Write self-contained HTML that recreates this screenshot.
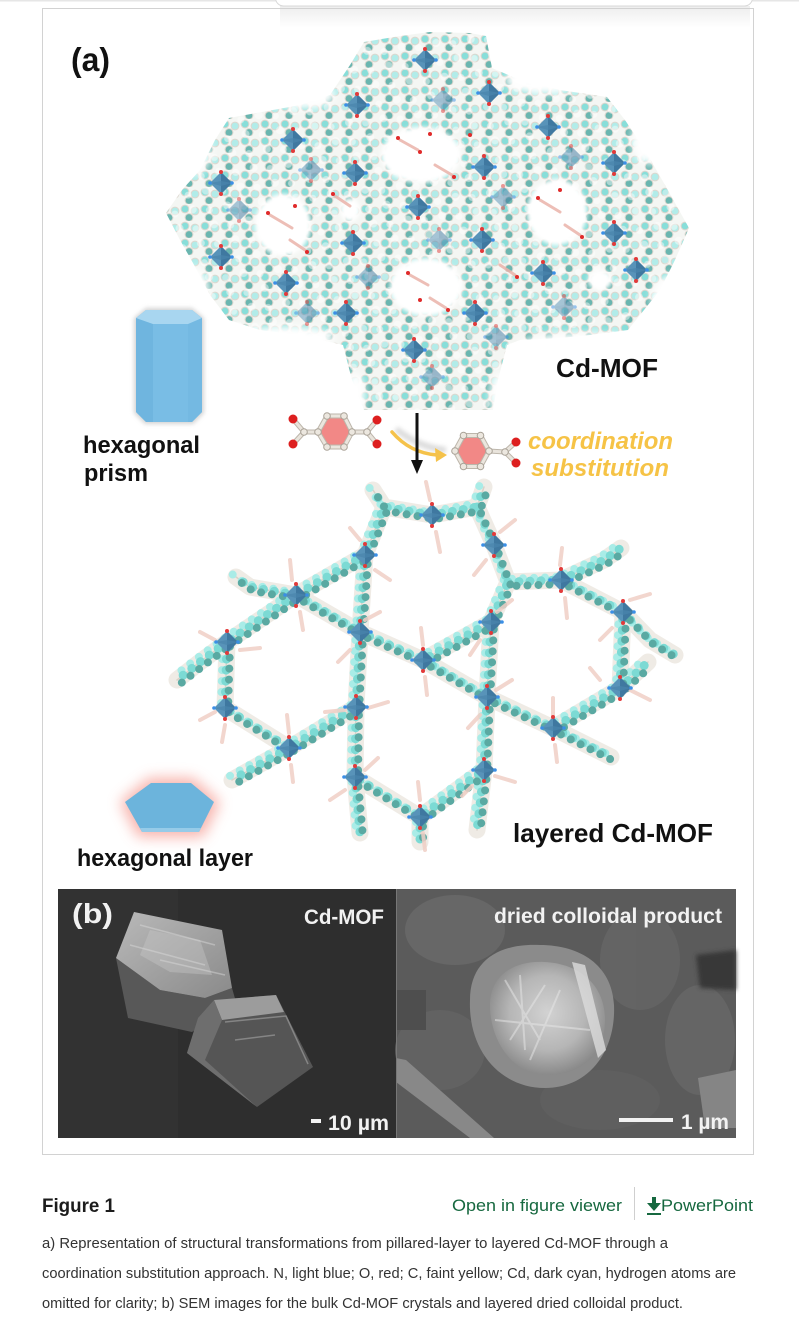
<!DOCTYPE html>
<html><head><meta charset="utf-8"><style>
html,body{margin:0;padding:0;background:#fff;width:799px;height:1324px;overflow:hidden}
svg{display:block}
</style></head><body>
<svg width="799" height="1324" viewBox="0 0 799 1324" xmlns="http://www.w3.org/2000/svg">
<defs>
<pattern id="tex" width="20" height="17" patternUnits="userSpaceOnUse">
 <rect width="20" height="17" fill="#f4f6f3"/>
 <circle cx="5" cy="5" r="3.9" fill="#82ddd7" stroke="#dcd5cc" stroke-width="1"/>
 <circle cx="15" cy="7" r="3.9" fill="#aeece8" stroke="#dcd5cc" stroke-width="1"/>
 <circle cx="9" cy="13.5" r="3.9" fill="#63b3ac" stroke="#dcd5cc" stroke-width="1"/>
</pattern>
<pattern id="tex2" width="26" height="23" patternUnits="userSpaceOnUse" patternTransform="rotate(35)">
 <circle cx="6" cy="6" r="3.5" fill="#fff"/>
 <circle cx="18" cy="15" r="4" fill="#fff"/>
</pattern>
<filter id="b2" x="-30%" y="-30%" width="160%" height="160%"><feGaussianBlur stdDeviation="2"/></filter>
<filter id="b4" x="-50%" y="-50%" width="200%" height="200%"><feGaussianBlur stdDeviation="4"/></filter>
<filter id="b6" x="-40%" y="-40%" width="180%" height="180%"><feGaussianBlur stdDeviation="7"/></filter>
<g id="cd">
 <polygon points="0,-11 11,0 0,11 -11,0" fill="#5893b9"/>
 <polygon points="0,-11 11,0 0,11" fill="#3f78a0"/>
 <polygon points="-11,0 0,-2 11,0 0,3" fill="#4a85ad" opacity=".7"/>
 <circle cx="0" cy="-11" r="2" fill="#e23a3a"/>
 <circle cx="0" cy="11" r="2" fill="#e23a3a"/>
 <circle cx="-11" cy="0" r="1.8" fill="#3b8fe6"/>
 <circle cx="11" cy="0" r="1.8" fill="#3b8fe6"/>
</g>
<g id="cdl" opacity=".5"><use href="#cd"/></g>
<path id="lp" d="M365,555 L384,507 L432,515 L477,507 L494,545 L508,582 L491,622 L423,660 L360,632 Z
  M296,595 L360,632 L356,707 L289,748 L225,708 L227,642 Z
  M561,580 L623,612 L620,688 L553,728 L487,697 L491,622
  M423,660 L487,697 L484,770 L420,817 L355,777 L356,707
  M508,582 L561,580 M365,555 L296,595
  M384,507 L373,490 M477,507 L484,487 M561,580 L604,560 L621,548
  M623,612 L650,640 L675,655 M620,688 L648,662
  M227,642 L200,662 L177,680 M296,595 L250,587 L236,577
  M289,748 L232,780 M420,817 L420,842 M355,777 L360,833
  M484,770 L477,830 M553,728 L611,757"/>
<radialGradient id="flw" cx="50%" cy="45%" r="55%">
 <stop offset="0" stop-color="#d2d2d2"/><stop offset=".6" stop-color="#b6b6b6"/><stop offset="1" stop-color="#8a8a8a"/>
</radialGradient>
<linearGradient id="c1" x1="0" y1="0" x2="1" y2="1">
 <stop offset="0" stop-color="#b9b9b9"/><stop offset="1" stop-color="#8a8a8a"/>
</linearGradient>
<linearGradient id="shd" x1="0" y1="0" x2="0" y2="1">
 <stop offset="0" stop-color="#000" stop-opacity=".07"/><stop offset="1" stop-color="#000" stop-opacity="0"/>
</linearGradient>
</defs>

<!-- top chrome -->
<rect x="0" y="0" width="799" height="1.5" fill="#e6e6e6"/>
<rect x="280" y="6" width="470" height="22" fill="url(#shd)"/>
<rect x="275.5" y="-10" width="477" height="16" rx="8" fill="#fff" stroke="#d8d8d8"/>

<!-- figure frame -->
<rect x="42.5" y="8.5" width="711" height="1146" fill="none" stroke="#d2d2d2"/>

<!-- (a) -->
<text x="71" y="71" font-family="Liberation Sans, sans-serif" font-weight="bold" font-size="33" fill="#111" textLength="39" lengthAdjust="spacingAndGlyphs">(a)</text>

<!-- ===== TOP MOF ===== -->
<g>
<g opacity=".95">
<polygon points="166,213 182,190 200,170 215,140 229,118 262,112 300,105 330,95 350,65 364,42 400,36 430,32 470,33 486,36 492,68 520,80 560,90 607,97 625,120 645,150 665,185 689,228 675,260 660,290 628,330 590,335 560,338 520,340 507,345 498,380 493,410 430,410 364,410 352,380 343,345 300,335 260,330 229,320 210,295 193,263 180,240" fill="url(#tex)"/>
<polygon points="166,213 182,190 200,170 215,140 229,118 262,112 300,105 330,95 350,65 364,42 400,36 430,32 470,33 486,36 492,68 520,80 560,90 607,97 625,120 645,150 665,185 689,228 675,260 660,290 628,330 590,335 560,338 520,340 507,345 498,380 493,410 430,410 364,410 352,380 343,345 300,335 260,330 229,320 210,295 193,263 180,240" fill="url(#tex2)" opacity=".45"/>
</g>
<!-- jagged edges -->
<g fill="#fff" filter="url(#b4)">
 <ellipse cx="300" cy="95" rx="35" ry="14"/>
 <ellipse cx="545" cy="80" rx="40" ry="14"/>
 <ellipse cx="195" cy="150" rx="16" ry="24"/>
 <ellipse cx="650" cy="140" rx="18" ry="24"/>
 <ellipse cx="285" cy="338" rx="50" ry="12"/>
 <ellipse cx="580" cy="345" rx="60" ry="12"/>
 <ellipse cx="195" cy="290" rx="14" ry="22"/>
 <ellipse cx="670" cy="300" rx="18" ry="25"/>
 <ellipse cx="500" cy="395" rx="10" ry="22"/>
 <ellipse cx="355" cy="395" rx="10" ry="22"/>
</g>
<!-- pores -->
<g fill="#fff" filter="url(#b2)">
 <ellipse cx="421" cy="155" rx="40" ry="28"/>
 <ellipse cx="283" cy="225" rx="28" ry="31"/>
 <ellipse cx="557" cy="212" rx="30" ry="33"/>
 <ellipse cx="426" cy="287" rx="36" ry="29"/>
 <ellipse cx="350" cy="210" rx="10" ry="12"/>
 <ellipse cx="600" cy="280" rx="12" ry="10"/>
</g>
<!-- ligand bits in pores -->
<g stroke="#eab3aa" stroke-width="3" stroke-linecap="round" opacity=".85">
 <line x1="400" y1="140" x2="418" y2="150"/><line x1="435" y1="165" x2="452" y2="175"/>
 <line x1="270" y1="215" x2="292" y2="228"/><line x1="290" y1="240" x2="305" y2="250"/>
 <line x1="540" y1="200" x2="560" y2="212"/><line x1="565" y1="225" x2="580" y2="235"/>
 <line x1="410" y1="275" x2="428" y2="285"/><line x1="430" y1="298" x2="446" y2="308"/>
 <line x1="335" y1="196" x2="350" y2="206"/><line x1="500" y1="265" x2="515" y2="275"/>
</g>
<g fill="#e02a2a">
 <circle cx="398" cy="138" r="2"/><circle cx="420" cy="152" r="2"/><circle cx="454" cy="177" r="2"/><circle cx="430" cy="134" r="2"/>
 <circle cx="268" cy="213" r="2"/><circle cx="307" cy="252" r="2"/><circle cx="295" cy="206" r="2"/>
 <circle cx="538" cy="198" r="2"/><circle cx="582" cy="237" r="2"/><circle cx="560" cy="190" r="2"/>
 <circle cx="408" cy="273" r="2"/><circle cx="448" cy="310" r="2"/><circle cx="420" cy="300" r="2"/>
 <circle cx="333" cy="194" r="2"/><circle cx="517" cy="277" r="2"/><circle cx="470" cy="135" r="2"/>
</g>
<!-- Cd nodes -->
<use href="#cdl" transform="translate(443,100)"/><use href="#cdl" transform="translate(311,170)"/>
<use href="#cdl" transform="translate(571,157)"/><use href="#cdl" transform="translate(239,210)"/>
<use href="#cdl" transform="translate(503,197)"/><use href="#cdl" transform="translate(439,240)"/>
<use href="#cdl" transform="translate(368,277)"/><use href="#cdl" transform="translate(307,313)"/>
<use href="#cdl" transform="translate(564,307)"/><use href="#cdl" transform="translate(496,337)"/>
<use href="#cdl" transform="translate(432,377)"/>
<use href="#cd" transform="translate(425,60)"/><use href="#cd" transform="translate(357,105)"/>
<use href="#cd" transform="translate(489,93)"/><use href="#cd" transform="translate(548,127)"/>
<use href="#cd" transform="translate(293,140)"/><use href="#cd" transform="translate(221,183)"/>
<use href="#cd" transform="translate(355,173)"/><use href="#cd" transform="translate(484,167)"/>
<use href="#cd" transform="translate(614,163)"/><use href="#cd" transform="translate(418,207)"/>
<use href="#cd" transform="translate(353,243)"/><use href="#cd" transform="translate(482,240)"/>
<use href="#cd" transform="translate(221,257)"/><use href="#cd" transform="translate(614,233)"/>
<use href="#cd" transform="translate(543,273)"/><use href="#cd" transform="translate(286,283)"/>
<use href="#cd" transform="translate(636,270)"/><use href="#cd" transform="translate(346,313)"/>
<use href="#cd" transform="translate(475,313)"/><use href="#cd" transform="translate(414,350)"/>
</g>

<!-- Cd-MOF label -->
<text x="556" y="377" font-family="Liberation Sans, sans-serif" font-weight="bold" font-size="26" fill="#111" textLength="102" lengthAdjust="spacingAndGlyphs">Cd-MOF</text>

<!-- hexagonal prism -->
<g>
 <polygon points="134,318 146,308 192,308 204,318 204,413 193,424 145,424 134,413" fill="#aaa" opacity=".5" filter="url(#b2)"/>
 <polygon points="136,318 146,310 192,310 202,318 202,412 192,422 146,422 136,412" fill="#79bde5"/>
 <polygon points="136,318 153,324 153,422 146,422 136,412" fill="#6fb5df"/>
 <polygon points="188,324 202,318 202,412 192,422 188,422" fill="#74b9e2"/>
 <polygon points="136,318 146,310 192,310 202,318 188,324 153,324" fill="#a8d6f0"/>
</g>
<text x="83" y="453" font-family="Liberation Sans, sans-serif" font-weight="bold" font-size="24" fill="#111" textLength="117" lengthAdjust="spacingAndGlyphs">hexagonal</text>
<text x="84" y="481" font-family="Liberation Sans, sans-serif" font-weight="bold" font-size="24" fill="#111" textLength="64" lengthAdjust="spacingAndGlyphs">prism</text>

<!-- molecule 1 -->
<g stroke-linecap="round">
 <g stroke="#bdb6ab" stroke-width="5">
  <line x1="318" y1="432" x2="304" y2="432"/><line x1="304" y1="432" x2="293" y2="419"/><line x1="304" y1="432" x2="293" y2="444"/>
  <line x1="352" y1="432" x2="367" y2="432"/><line x1="367" y1="432" x2="377" y2="420"/><line x1="367" y1="432" x2="377" y2="444"/>
 </g>
 <g stroke="#e9e4dc" stroke-width="3">
  <line x1="318" y1="432" x2="304" y2="432"/><line x1="304" y1="432" x2="293" y2="419"/><line x1="304" y1="432" x2="293" y2="444"/>
  <line x1="352" y1="432" x2="367" y2="432"/><line x1="367" y1="432" x2="377" y2="420"/><line x1="367" y1="432" x2="377" y2="444"/>
 </g>
 <polygon points="318,432 327,416 344,416 352,432 344,447 327,447" fill="#f28886" stroke="#bdb6ab" stroke-width="5" stroke-linejoin="round"/>
 <polygon points="318,432 327,416 344,416 352,432 344,447 327,447" fill="none" stroke="#ebe6de" stroke-width="3" stroke-linejoin="round"/>
 <g fill="#ece7df" stroke="#a9a297" stroke-width="1">
  <circle cx="318" cy="432" r="3.3"/><circle cx="327" cy="416" r="3.3"/><circle cx="344" cy="416" r="3.3"/>
  <circle cx="352" cy="432" r="3.3"/><circle cx="344" cy="447" r="3.3"/><circle cx="327" cy="447" r="3.3"/>
  <circle cx="304" cy="432" r="3.3"/><circle cx="367" cy="432" r="3.3"/>
 </g>
 <g fill="#dd1f1f"><circle cx="293" cy="419" r="4.5"/><circle cx="293" cy="444" r="4.5"/><circle cx="377" cy="420" r="4.5"/><circle cx="377" cy="444" r="4.5"/></g>
</g>

<!-- arrows -->
<path d="M396,429 Q420,448 446,450" fill="none" stroke="#999" stroke-width="6" opacity=".35" filter="url(#b2)"/>
<path d="M392,432 Q410,453 437,455" fill="none" stroke="#f5c24a" stroke-width="3.5" stroke-linecap="round"/>
<polygon points="447,455 435,448 436,462" fill="#f5c24a"/>
<line x1="417" y1="413" x2="417" y2="462" stroke="#111" stroke-width="3"/>
<polygon points="411,460 423,460 417,474" fill="#111"/>

<!-- molecule 2 -->
<g stroke-linecap="round">
 <g stroke="#bdb6ab" stroke-width="5"><line x1="489" y1="451" x2="505" y2="452"/><line x1="505" y1="452" x2="516" y2="442"/><line x1="505" y1="452" x2="516" y2="463"/></g>
 <g stroke="#e9e4dc" stroke-width="3"><line x1="489" y1="451" x2="505" y2="452"/><line x1="505" y1="452" x2="516" y2="442"/><line x1="505" y1="452" x2="516" y2="463"/></g>
 <polygon points="455,451 463.5,435.5 480.5,435.5 489,451 480.5,466.5 463.5,466.5" fill="#f28886" stroke="#bdb6ab" stroke-width="5" stroke-linejoin="round"/>
 <polygon points="455,451 463.5,435.5 480.5,435.5 489,451 480.5,466.5 463.5,466.5" fill="none" stroke="#ebe6de" stroke-width="3" stroke-linejoin="round"/>
 <g fill="#ece7df" stroke="#a9a297" stroke-width="1">
  <circle cx="455" cy="451" r="3.3"/><circle cx="463.5" cy="435.5" r="3.3"/><circle cx="480.5" cy="435.5" r="3.3"/>
  <circle cx="489" cy="451" r="3.3"/><circle cx="480.5" cy="466.5" r="3.3"/><circle cx="463.5" cy="466.5" r="3.3"/><circle cx="505" cy="452" r="3.3"/>
 </g>
 <g fill="#dd1f1f"><circle cx="516" cy="442" r="4.5"/><circle cx="516" cy="463" r="4.5"/></g>
</g>
<text x="528" y="449" font-family="Liberation Sans, sans-serif" font-weight="bold" font-style="italic" font-size="24" fill="#f6c346" textLength="145" lengthAdjust="spacingAndGlyphs">coordination</text>
<text x="531" y="476" font-family="Liberation Sans, sans-serif" font-weight="bold" font-style="italic" font-size="24" fill="#f6c346" textLength="138" lengthAdjust="spacingAndGlyphs">substitution</text>

<!-- ===== LOWER MOF ===== -->
<g fill="none" stroke-linecap="round" stroke-linejoin="round">
 <use href="#lp" stroke="#ebe6df" stroke-width="17" opacity=".8"/>
 <use href="#lp" stroke="#d9d2c8" stroke-width="1.5"/>
 <use href="#lp" stroke="#a9ece7" stroke-width="8" stroke-dasharray="0 11" stroke-dashoffset="3" transform="translate(-4,-3)"/>
 <use href="#lp" stroke="#7cdad4" stroke-width="9" stroke-dasharray="0 11"/>
 <use href="#lp" stroke="#5aa9a2" stroke-width="8" stroke-dasharray="0 11" stroke-dashoffset="5.5" transform="translate(3,4)"/>
</g>
<!-- pink ligand sticks -->
<g stroke="#f0cfc6" stroke-width="4" stroke-linecap="round" opacity=".85">
 <line x1="430" y1="500" x2="426" y2="482"/><line x1="436" y1="532" x2="440" y2="552"/>
 <line x1="500" y1="532" x2="515" y2="520"/><line x1="486" y1="560" x2="474" y2="575"/>
 <line x1="360" y1="540" x2="350" y2="528"/><line x1="375" y1="570" x2="390" y2="580"/>
 <line x1="292" y1="580" x2="290" y2="560"/><line x1="300" y1="612" x2="303" y2="630"/>
 <line x1="560" y1="565" x2="562" y2="548"/><line x1="565" y1="598" x2="567" y2="618"/>
 <line x1="365" y1="620" x2="380" y2="612"/><line x1="350" y1="650" x2="338" y2="662"/>
 <line x1="497" y1="612" x2="512" y2="600"/><line x1="480" y1="640" x2="470" y2="655"/>
 <line x1="630" y1="600" x2="650" y2="594"/><line x1="612" y1="628" x2="600" y2="640"/>
 <line x1="215" y1="640" x2="200" y2="632"/><line x1="240" y1="650" x2="260" y2="648"/>
 <line x1="423" y1="645" x2="421" y2="628"/><line x1="425" y1="677" x2="427" y2="695"/>
 <line x1="345" y1="710" x2="325" y2="712"/><line x1="368" y1="708" x2="388" y2="702"/>
 <line x1="496" y1="690" x2="512" y2="680"/><line x1="480" y1="715" x2="468" y2="728"/>
 <line x1="630" y1="690" x2="650" y2="700"/><line x1="600" y1="680" x2="590" y2="668"/>
 <line x1="215" y1="712" x2="200" y2="720"/><line x1="225" y1="725" x2="222" y2="742"/>
 <line x1="289" y1="733" x2="287" y2="715"/><line x1="291" y1="765" x2="293" y2="782"/>
 <line x1="553" y1="715" x2="553" y2="698"/><line x1="555" y1="745" x2="557" y2="762"/>
 <line x1="345" y1="790" x2="330" y2="800"/><line x1="365" y1="770" x2="378" y2="758"/>
 <line x1="495" y1="776" x2="515" y2="782"/><line x1="472" y1="786" x2="462" y2="796"/>
 <line x1="420" y1="800" x2="418" y2="782"/><line x1="423" y1="833" x2="425" y2="850"/>
</g>
<g>
<use href="#cd" transform="translate(432,515)"/><use href="#cd" transform="translate(494,545)"/>
<use href="#cd" transform="translate(365,555)"/><use href="#cd" transform="translate(296,595)"/>
<use href="#cd" transform="translate(561,580)"/><use href="#cd" transform="translate(360,632)"/>
<use href="#cd" transform="translate(491,622)"/><use href="#cd" transform="translate(623,612)"/>
<use href="#cd" transform="translate(227,642)"/><use href="#cd" transform="translate(423,660)"/>
<use href="#cd" transform="translate(356,707)"/><use href="#cd" transform="translate(487,697)"/>
<use href="#cd" transform="translate(620,688)"/><use href="#cd" transform="translate(225,708)"/>
<use href="#cd" transform="translate(289,748)"/><use href="#cd" transform="translate(553,728)"/>
<use href="#cd" transform="translate(355,777)"/><use href="#cd" transform="translate(484,770)"/>
<use href="#cd" transform="translate(420,817)"/>
</g>

<!-- hexagonal layer -->
<polygon points="120,802 149,778 193,778 220,802 203,837 138,837" fill="#f59a90" opacity=".75" filter="url(#b6)"/>
<polygon points="125,802 151,783 191,783 214,802 199,832 142,832" fill="#6cb4dc"/>
<polygon points="142,832 199,832 201,828 140,828" fill="#96cbe8"/>
<text x="77" y="866" font-family="Liberation Sans, sans-serif" font-weight="bold" font-size="24" fill="#111" textLength="176" lengthAdjust="spacingAndGlyphs">hexagonal layer</text>
<text x="513" y="842" font-family="Liberation Sans, sans-serif" font-weight="bold" font-size="26" fill="#111" textLength="200" lengthAdjust="spacingAndGlyphs">layered Cd-MOF</text>

<!-- ===== SEM (b) ===== -->
<!-- left -->
<rect x="58" y="889" width="338" height="249" fill="#2e2e2e"/>
<rect x="58" y="889" width="120" height="249" fill="#323232"/>
<!-- crystal 1 -->
<polygon points="116,958 160,990 205,998 232,988 236,1002 192,1032 128,1018" fill="#585858"/>
<polygon points="134,912 222,930 232,988 205,998 160,990 116,958" fill="url(#c1)"/>
<polygon points="150,930 200,940 212,975 170,972 140,955" fill="#c8c8c8" opacity=".4"/>
<path d="M140,925 L215,945 M130,945 L205,965 M160,960 L225,975" stroke="#dcdcdc" stroke-width="1.5" opacity=".45" fill="none"/>
<!-- crystal 2 -->
<polygon points="214,1000 276,995 313,1067 257,1107 187,1053 198,1018" fill="#555"/>
<polygon points="214,1000 276,995 284,1012 222,1020" fill="#9c9c9c"/>
<polygon points="198,1018 214,1000 222,1020 205,1060 257,1107 187,1053" fill="#6e6e6e"/>
<path d="M225,1022 L286,1016 L308,1064 M235,1040 L275,1035" stroke="#858585" stroke-width="1.5" fill="none"/>
<!-- right -->
<rect x="396" y="889" width="340" height="249" fill="#5b5b5b"/>
<g opacity=".8">
 <ellipse cx="455" cy="930" rx="50" ry="35" fill="#6a6a6a"/>
 <ellipse cx="640" cy="960" rx="40" ry="50" fill="#666"/>
 <ellipse cx="700" cy="1040" rx="35" ry="55" fill="#686868"/>
 <ellipse cx="440" cy="1050" rx="45" ry="40" fill="#646464"/>
 <ellipse cx="600" cy="1100" rx="60" ry="30" fill="#606060"/>
</g>
<polygon points="696,955 736,950 736,990 700,988" fill="#383838" filter="url(#b2)"/>
<rect x="396" y="990" width="30" height="40" fill="#4e4e4e"/>
<polygon points="698,1078 736,1070 736,1128 705,1128" fill="#858585"/>
<polygon points="396,1058 406,1060 494,1138 470,1138 396,1082" fill="#888"/>
<!-- flower -->
<path d="M470,1000 C470,960 500,943 540,945 C580,945 612,965 614,1005 C616,1050 590,1088 545,1088 C500,1088 468,1050 470,1000 Z" fill="#8b8b8b"/>
<path d="M490,1005 C490,975 515,960 545,962 C580,964 605,985 605,1020 C605,1055 580,1075 548,1075 C512,1075 490,1040 490,1005 Z" fill="url(#flw)"/>
<polygon points="572,962 585,965 606,1050 598,1058" fill="#dcdcdc" opacity=".8"/>
<path d="M505,980 L540,1040 M520,975 L525,1050 M545,985 L510,1040 M560,990 L530,1060 M495,1020 L590,1030" stroke="#e8e8e8" stroke-width="2" opacity=".5" fill="none"/>
<rect x="396" y="889" width="1" height="249" fill="#777"/>
<!-- SEM labels -->
<text x="72" y="923" font-family="Liberation Sans, sans-serif" font-weight="bold" font-size="28" fill="#f2f2f2" textLength="41" lengthAdjust="spacingAndGlyphs">(b)</text>
<text x="304" y="924" font-family="Liberation Sans, sans-serif" font-weight="bold" font-size="21" fill="#f2f2f2" textLength="80" lengthAdjust="spacingAndGlyphs">Cd-MOF</text>
<text x="494" y="923" font-family="Liberation Sans, sans-serif" font-weight="bold" font-size="21" fill="#f2f2f2" textLength="228" lengthAdjust="spacingAndGlyphs">dried colloidal product</text>
<rect x="311" y="1119" width="10" height="4" fill="#f2f2f2"/>
<text x="328" y="1130" font-family="Liberation Sans, sans-serif" font-weight="bold" font-size="21" fill="#f2f2f2" textLength="61" lengthAdjust="spacingAndGlyphs">10 µm</text>
<rect x="619" y="1118" width="54" height="4" fill="#f2f2f2"/>
<text x="681" y="1129" font-family="Liberation Sans, sans-serif" font-weight="bold" font-size="21" fill="#f2f2f2" textLength="48" lengthAdjust="spacingAndGlyphs">1 µm</text>

<!-- ===== caption ===== -->
<text x="42" y="1212" font-family="Liberation Sans, sans-serif" font-weight="bold" font-size="19" fill="#1c1c1c" textLength="73" lengthAdjust="spacingAndGlyphs">Figure 1</text>
<text x="452" y="1211" font-family="Liberation Sans, sans-serif" font-size="17" fill="#16683f" textLength="170" lengthAdjust="spacingAndGlyphs">Open in figure viewer</text>
<rect x="634" y="1187" width="1" height="33" fill="#cfcfcf"/>
<g fill="#16683f">
 <rect x="652" y="1197" width="4" height="7"/>
 <polygon points="647,1203 661,1203 654,1211"/>
 <rect x="647" y="1213" width="14" height="2"/>
</g>
<text x="661" y="1211" font-family="Liberation Sans, sans-serif" font-size="17" fill="#16683f" textLength="92" lengthAdjust="spacingAndGlyphs">PowerPoint</text>
<g font-family="Liberation Sans, sans-serif" font-size="14.5" fill="#333">
<text x="42" y="1248" textLength="626" lengthAdjust="spacingAndGlyphs">a) Representation of structural transformations from pillared-layer to layered Cd-MOF through a</text>
<text x="42" y="1278" textLength="694" lengthAdjust="spacingAndGlyphs">coordination substitution approach. N, light blue; O, red; C, faint yellow; Cd, dark cyan, hydrogen atoms are</text>
<text x="42" y="1308" textLength="641" lengthAdjust="spacingAndGlyphs">omitted for clarity; b) SEM images for the bulk Cd-MOF crystals and layered dried colloidal product.</text>
</g>
</svg>
</body></html>
